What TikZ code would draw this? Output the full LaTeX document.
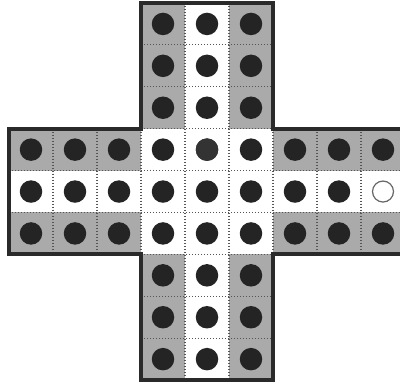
\documentclass[tikz,border=0pt]{standalone}
\definecolor{cellgray}{RGB}{170,170,170}
\definecolor{pegc}{RGB}{36,36,36}
\definecolor{linec}{RGB}{42,42,42}
\definecolor{dotc}{RGB}{85,85,85}
\begin{document}
\begin{tikzpicture}[x=1pt,y=-1pt,
  peg/.style={circle,fill=pegc,minimum size=22.5pt,inner sep=0pt},
  hole/.style={circle,draw=black!60,line width=1.2pt,fill=white,minimum size=21pt,inner sep=0pt},
  gridl/.style={line width=1.1pt,dotc,dash pattern=on 1.1pt off 1.9pt},
  border/.style={line width=4pt,linec,line join=miter},
  grayfill/.style={fill=cellgray}]
\useasboundingbox (0,0) rectangle (400,385);
\fill[white] (0,0) rectangle (400,385);
\begin{scope}
\clip (0,0) rectangle (400,385);
% gray cells
\fill[grayfill] (141,3) rectangle (185,128.7);
\fill[grayfill] (229,3) rectangle (273,128.7);
\fill[grayfill] (141,254.3) rectangle (185,380);
\fill[grayfill] (229,254.3) rectangle (273,380);
\fill[grayfill] (9,128.7) rectangle (141,170.6);
\fill[grayfill] (9,212.4) rectangle (141,254.3);
\fill[grayfill] (273,128.7) rectangle (405,170.6);
\fill[grayfill] (273,212.4) rectangle (405,254.3);
% dotted grid
\foreach \x in {53,97,141,273,317,361}{\draw[gridl] (\x,128.7) -- (\x,254.3);}
\foreach \x in {185,229}{\draw[gridl] (\x,3) -- (\x,380);}
\foreach \y in {44.9,86.8,128.7,254.3,296.2,338.1}{\draw[gridl] (141,\y) -- (273,\y);}
\foreach \y in {170.6,212.4}{\draw[gridl] (9,\y) -- (405,\y);}
% pegs
\foreach \c in {0,...,8}{
  \foreach \r in {0,...,8}{
    \pgfmathtruncatemacro\incross{((\c>2 && \c<6) || (\r>2 && \r<6)) ? 1 : 0}
    \pgfmathtruncatemacro\ishole{(\c==8 && \r==4) ? 1 : 0}
    \ifnum\incross=1
      \ifnum\ishole=1
        \node[hole] (h-\c-\r) at ({31+44*\c},{23.95+41.9*\r}) {};
      \else
        \node[peg] (p-\c-\r) at ({31+44*\c},{23.95+41.9*\r}) {};
      \fi
    \fi
  }
}
\node[peg,fill=black!80] (p-4-3b) at (p-4-3) {};
% border
\draw[border] (141,3) -- (273,3) -- (273,128.7) -- (405,128.7) -- (405,254.3)
  -- (273,254.3) -- (273,380) -- (141,380) -- (141,254.3) -- (9,254.3)
  -- (9,128.7) -- (141,128.7) -- cycle;
\end{scope}
\end{tikzpicture}
\end{document}
